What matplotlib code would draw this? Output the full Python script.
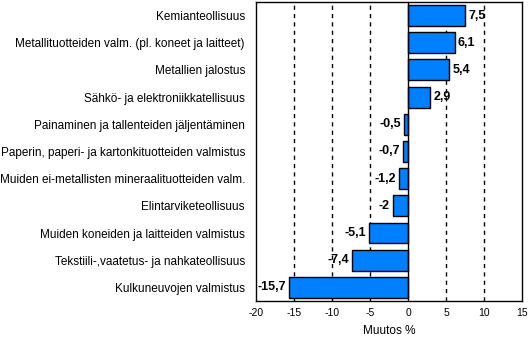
import matplotlib.pyplot as plt
import numpy as np

plt.rcParams['font.family'] = ['Liberation Sans', 'DejaVu Sans']

# Toimialat ja muutos %
toimialat = ["Kemianteollisuus",
             "Metallituotteiden valm. (pl. koneet ja laitteet)",
             "Metallien jalostus",
             "Sähkö- ja elektroniikkatellisuus",
             "Painaminen ja tallenteiden jäljentäminen",
             "Paperin, paperi- ja kartonkituotteiden valmistus",
             "Muiden ei-metallisten mineraalituotteiden valm.",
             "Elintarviketeollisuus",
             "Muiden koneiden ja laitteiden valmistus",
             "Tekstiili-,vaatetus- ja nahkateollisuus",
             "Kulkuneuvojen valmistus"]
muutos = [7.5, 6.1, 5.4, 2.9, -0.5, -0.7, -1.2, -2, -5.1, -7.4, -15.7]
xticks = [-20, -15, -10, -5, 0, 5, 10, 15]

fig = plt.figure(figsize=(5.28, 3.37), dpi=100)
ax = fig.add_axes([0.485, 0.107, 0.504, 0.887])

y = np.arange(len(muutos))
ax.barh(y, muutos, height=0.77, color="#0080FF", edgecolor="black", linewidth=1, zorder=3)

for g in [-15, -10, -5, 5, 10]:
    ax.axvline(g, color="black", linestyle=(0, (3, 3)), linewidth=1, zorder=1)
ax.axvline(0, color="black", linewidth=1, zorder=4)

lab_font = ['Liberation Sans Narrow', 'Liberation Sans']
for yi, v in zip(y, muutos):
    txt = ("%g" % v).replace(".", ",")
    if v >= 0:
        ax.text(v + 0.4, yi, txt, va="center", ha="left", fontsize=9, fontweight="bold",
                family=lab_font)
    else:
        ax.text(v - 0.4, yi, txt, va="center", ha="right", fontsize=9, fontweight="bold",
                family=lab_font)

ax.set_xlim(-20, 15)
ax.set_ylim(len(muutos) - 0.5, -0.5)
ax.set_xticks(xticks)
ax.set_xticklabels([str(t) for t in xticks], fontsize=7.5)
ax.set_yticks(y)
ax.set_yticklabels(toimialat, fontsize=8.5)
ax.tick_params(axis='y', length=0, pad=8)
ax.tick_params(axis='x', length=0, pad=5)
ax.set_xlabel("Muutos %", fontsize=8.5, labelpad=5)
for sp in ax.spines.values():
    sp.set_linewidth(1)

fig.savefig("out.png", dpi=100)
